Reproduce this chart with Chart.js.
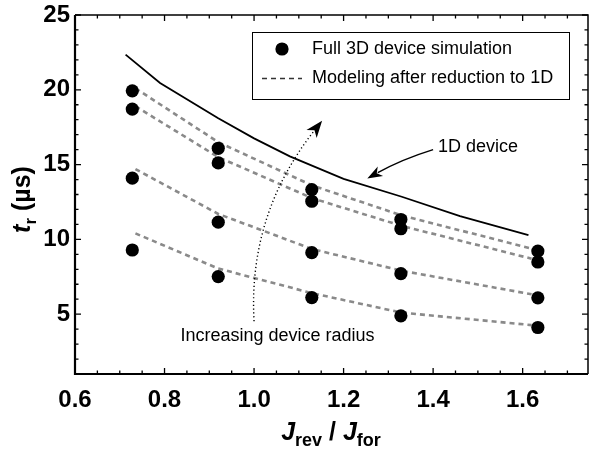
<!DOCTYPE html>
<html>
<head>
<meta charset="utf-8">
<script src="https://cdn.jsdelivr.net/npm/chart.js@4.4.0/dist/chart.umd.min.js"></script>
<style>
  html, body { margin: 0; padding: 0; background: #ffffff; }
  #wrap { width: 589px; height: 451px; }
</style>
</head>
<body>
<div id="wrap"><canvas id="c" width="589" height="451"></canvas></div>
<script>
// ---- Data ----
const simX = [0.728, 0.920, 1.129, 1.328, 1.634];
const simA = [19.93, 16.09, 13.33, 11.33, 9.22];
const simB = [18.71, 15.11, 12.55, 10.71, 8.49];
const simC = [14.09, 11.15, 9.11, 7.71, 6.09];
const simD = [9.29, 7.51, 6.11, 4.89, 4.11];

const modelX = [0.735, 0.920, 1.130, 1.330, 1.620];
const modelA = [20.10, 16.50, 13.60, 11.60, 9.38];
const modelB = [18.90, 15.50, 12.75, 10.90, 8.71];
const modelC = [14.70, 11.70, 9.35, 7.90, 6.33];
const modelD = [10.40, 8.05, 6.40, 5.10, 4.27];

const devX = [0.713, 0.790, 0.920, 1.000, 1.080, 1.200, 1.330, 1.460, 1.613];
const devY = [22.35, 20.45, 18.10, 16.75, 15.55, 14.05, 12.85, 11.55, 10.29];

const xTicks = [0.6, 0.8, 1.0, 1.2, 1.4, 1.6];
const yTicks = [5, 10, 15, 20, 25];
const xRange = [0.6, 1.746];
const yRange = [1.0, 25.0];

const legendLabels = ['Full 3D device simulation', 'Modeling after reduction to 1D'];
const radiusLabel = 'Increasing device radius';
const deviceLabel = '1D device';

// annotation anchors (data coordinates)
const radiusArrow = { from: [1.0, 4.53], ctrl: [0.9866, 11.67], to: [1.152, 17.93] };
const radiusText = [1.0525, 3.53];
const deviceArrow = { from: [1.40, 16.0], ctrl: [1.33, 15.35], to: [1.253, 14.07] };
const deviceText = [1.411, 16.2];

const zip = (xs, ys) => xs.map((x, i) => ({ x: x, y: ys[i] }));

const FONT = '"Liberation Sans", Arial, Helvetica, sans-serif';
const GRAY = '#8a8a8a';

function pointSet(ys) {
  return { data: zip(simX, ys), showLine: false, pointRadius: 6.6, pointHoverRadius: 6.6,
           backgroundColor: '#000', borderColor: '#000', borderWidth: 0, order: 0 };
}
function modelSet(ys) {
  return { data: zip(modelX, ys), showLine: true, pointRadius: 0, borderColor: GRAY,
           borderWidth: 2.6, borderDash: [5, 4], tension: 0, order: 1, fill: false };
}

const decor = {
  id: 'decor',
  afterDraw(chart) {
    const ctx = chart.ctx;
    const xs = chart.scales.x, ys = chart.scales.y;
    const a = chart.chartArea;
    const px = v => xs.getPixelForValue(v), py = v => ys.getPixelForValue(v);
    ctx.save();
    // frame
    ctx.strokeStyle = '#000';
    ctx.lineWidth = 1.5;
    ctx.beginPath();
    ctx.moveTo(a.left, a.top); ctx.lineTo(a.right, a.top); ctx.lineTo(a.right, a.bottom);
    ctx.stroke();
    ctx.lineWidth = 2.2;
    ctx.beginPath();
    ctx.moveTo(a.left, a.top); ctx.lineTo(a.left, a.bottom); ctx.lineTo(a.right, a.bottom);
    ctx.stroke();
    // ticks
    ctx.lineWidth = 1.3;
    ctx.beginPath();
    for (let i = 0; ; i++) {
      const v = xRange[0] + i * 0.05;
      if (v > xRange[1] + 1e-9) break;
      const major = (i % 4) === 0;
      const L = major ? 6 : 3.5;
      const x = px(v);
      ctx.moveTo(x, a.bottom); ctx.lineTo(x, a.bottom - L);
      ctx.moveTo(x, a.top); ctx.lineTo(x, a.top + L);
    }
    for (let v = 1; v <= 25; v++) {
      const major = (v % 5) === 0;
      const L = major ? 6 : 3.5;
      const y = py(v);
      ctx.moveTo(a.left, y); ctx.lineTo(a.left + L, y);
      ctx.moveTo(a.right, y); ctx.lineTo(a.right - L, y);
    }
    ctx.stroke();

    // legend box
    const lx = a.left + 177, ly = a.top + 17, lw = 317, lh = 67;
    ctx.lineWidth = 1;
    ctx.strokeStyle = '#000';
    ctx.strokeRect(lx + 0.5, ly + 0.5, lw, lh);
    ctx.fillStyle = '#000';
    ctx.beginPath(); ctx.arc(lx + 30, ly + 17, 6.6, 0, Math.PI * 2); ctx.fill();
    ctx.setLineDash([5, 4]);
    ctx.lineWidth = 1.5;
    ctx.strokeStyle = '#333';
    ctx.beginPath(); ctx.moveTo(lx + 10, ly + 46.5); ctx.lineTo(lx + 50, ly + 46.5); ctx.stroke();
    ctx.setLineDash([]);
    ctx.font = '18px ' + FONT;
    ctx.textBaseline = 'middle';
    ctx.textAlign = 'left';
    ctx.fillText(legendLabels[0], lx + 60, ly + 17);
    ctx.fillText(legendLabels[1], lx + 60, ly + 46.5);

    // annotation: 1D device arrow
    ctx.strokeStyle = '#000';
    ctx.lineWidth = 1.5;
    const f1 = [px(deviceArrow.from[0]), py(deviceArrow.from[1])];
    const c1 = [px(deviceArrow.ctrl[0]), py(deviceArrow.ctrl[1])];
    const t1 = [px(deviceArrow.to[0]), py(deviceArrow.to[1])];
    const ang1 = Math.atan2(t1[1] - c1[1], t1[0] - c1[0]);
    const back1 = [t1[0] - 12 * Math.cos(ang1), t1[1] - 12 * Math.sin(ang1)];
    ctx.beginPath(); ctx.moveTo(f1[0], f1[1]); ctx.quadraticCurveTo(c1[0], c1[1], back1[0], back1[1]); ctx.stroke();
    drawHead(ctx, t1, ang1, 15, 5.5);
    ctx.fillStyle = '#000';
    ctx.font = '18px ' + FONT;
    ctx.textAlign = 'left'; ctx.textBaseline = 'middle';
    ctx.fillText(deviceLabel, px(deviceText[0]), py(deviceText[1]));

    // annotation: increasing radius dotted arrow
    const f2 = [px(radiusArrow.from[0]), py(radiusArrow.from[1])];
    const c2 = [px(radiusArrow.ctrl[0]), py(radiusArrow.ctrl[1])];
    const t2 = [px(radiusArrow.to[0]), py(radiusArrow.to[1])];
    const ang2 = Math.atan2(t2[1] - c2[1], t2[0] - c2[0]);
    const back2 = [t2[0] - 12 * Math.cos(ang2), t2[1] - 12 * Math.sin(ang2)];
    ctx.setLineDash([1.2, 2.6]);
    ctx.lineWidth = 1.4;
    ctx.beginPath(); ctx.moveTo(f2[0], f2[1]); ctx.quadraticCurveTo(c2[0], c2[1], back2[0], back2[1]); ctx.stroke();
    ctx.setLineDash([]);
    drawHead(ctx, t2, ang2, 17, 6.5);
    ctx.textAlign = 'center';
    ctx.fillText(radiusLabel, px(radiusText[0]), py(radiusText[1]));

    // axis titles
    drawRich(ctx, [
      { t: 'J', f: 'italic bold 25px ' + FONT, dy: 0 },
      { t: 'rev', f: 'bold 18px ' + FONT, dy: 6 },
      { t: ' / ', f: 'bold 25px ' + FONT, dy: 0 },
      { t: 'J', f: 'italic bold 25px ' + FONT, dy: 0 },
      { t: 'for', f: 'bold 18px ' + FONT, dy: 6 }
    ], 331, 440, 0);
    drawRich(ctx, [
      { t: 't', f: 'italic bold 25px ' + FONT, dy: 0 },
      { t: 'r', f: 'bold 17px ' + FONT, dy: 6 },
      { t: ' (µs)', f: 'bold 25px ' + FONT, dy: 0 }
    ], 30, (a.top + a.bottom) / 2 + 5, -Math.PI / 2);
    ctx.restore();
  }
};

function drawHead(ctx, tip, ang, len, half) {
  ctx.save();
  ctx.translate(tip[0], tip[1]);
  ctx.rotate(ang);
  ctx.fillStyle = '#000';
  ctx.beginPath();
  ctx.moveTo(0, 0);
  ctx.lineTo(-len, -half);
  ctx.lineTo(-len * 0.72, 0);
  ctx.lineTo(-len, half);
  ctx.closePath();
  ctx.fill();
  ctx.restore();
}

function drawRich(ctx, parts, cx, baseY, rot) {
  ctx.save();
  let total = 0;
  parts.forEach(p => { ctx.font = p.f; p.w = ctx.measureText(p.t).width; total += p.w; });
  ctx.translate(cx, baseY);
  ctx.rotate(rot);
  ctx.textAlign = 'left';
  ctx.textBaseline = 'alphabetic';
  ctx.fillStyle = '#000';
  let x = -total / 2;
  parts.forEach(p => { ctx.font = p.f; ctx.fillText(p.t, x, p.dy); x += p.w; });
  ctx.restore();
}

new Chart(document.getElementById('c'), {
  type: 'scatter',
  data: {
    datasets: [
      pointSet(simA), pointSet(simB), pointSet(simC), pointSet(simD),
      modelSet(modelA), modelSet(modelB), modelSet(modelC), modelSet(modelD),
      { data: zip(devX, devY), showLine: true, pointRadius: 0, borderColor: '#000',
        borderWidth: 1.8, tension: 0, order: 2, fill: false }
    ]
  },
  options: {
    responsive: false,
    animation: false,
    devicePixelRatio: 1,
    layout: { autoPadding: false, padding: { top: 15, right: 1, left: 0, bottom: 0 } },
    plugins: { legend: { display: false }, tooltip: { enabled: false } },
    scales: {
      x: {
        type: 'linear', min: xRange[0], max: xRange[1],
        grid: { display: false, drawTicks: false },
        border: { display: false },
        afterBuildTicks: s => { s.ticks = xTicks.map(v => ({ value: v })); },
        afterFit: s => { s.height = 77; s.paddingLeft = 0; s.paddingRight = 0; },
        ticks: { color: '#000', padding: 12, maxRotation: 0, autoSkip: false,
                 font: { family: FONT, size: 24, weight: 'bold' },
                 callback: v => Number(v).toFixed(1) }
      },
      y: {
        type: 'linear', min: yRange[0], max: yRange[1],
        grid: { display: false, drawTicks: false },
        border: { display: false },
        afterBuildTicks: s => { s.ticks = yTicks.map(v => ({ value: v })); },
        afterFit: s => { s.width = 75; s.paddingTop = 0; s.paddingBottom = 0; },
        ticks: { color: '#000', padding: 5, autoSkip: false,
                 font: { family: FONT, size: 24, weight: 'bold' },
                 callback: v => String(v) }
      }
    }
  },
  plugins: [decor]
});
</script>
</body>
</html>
